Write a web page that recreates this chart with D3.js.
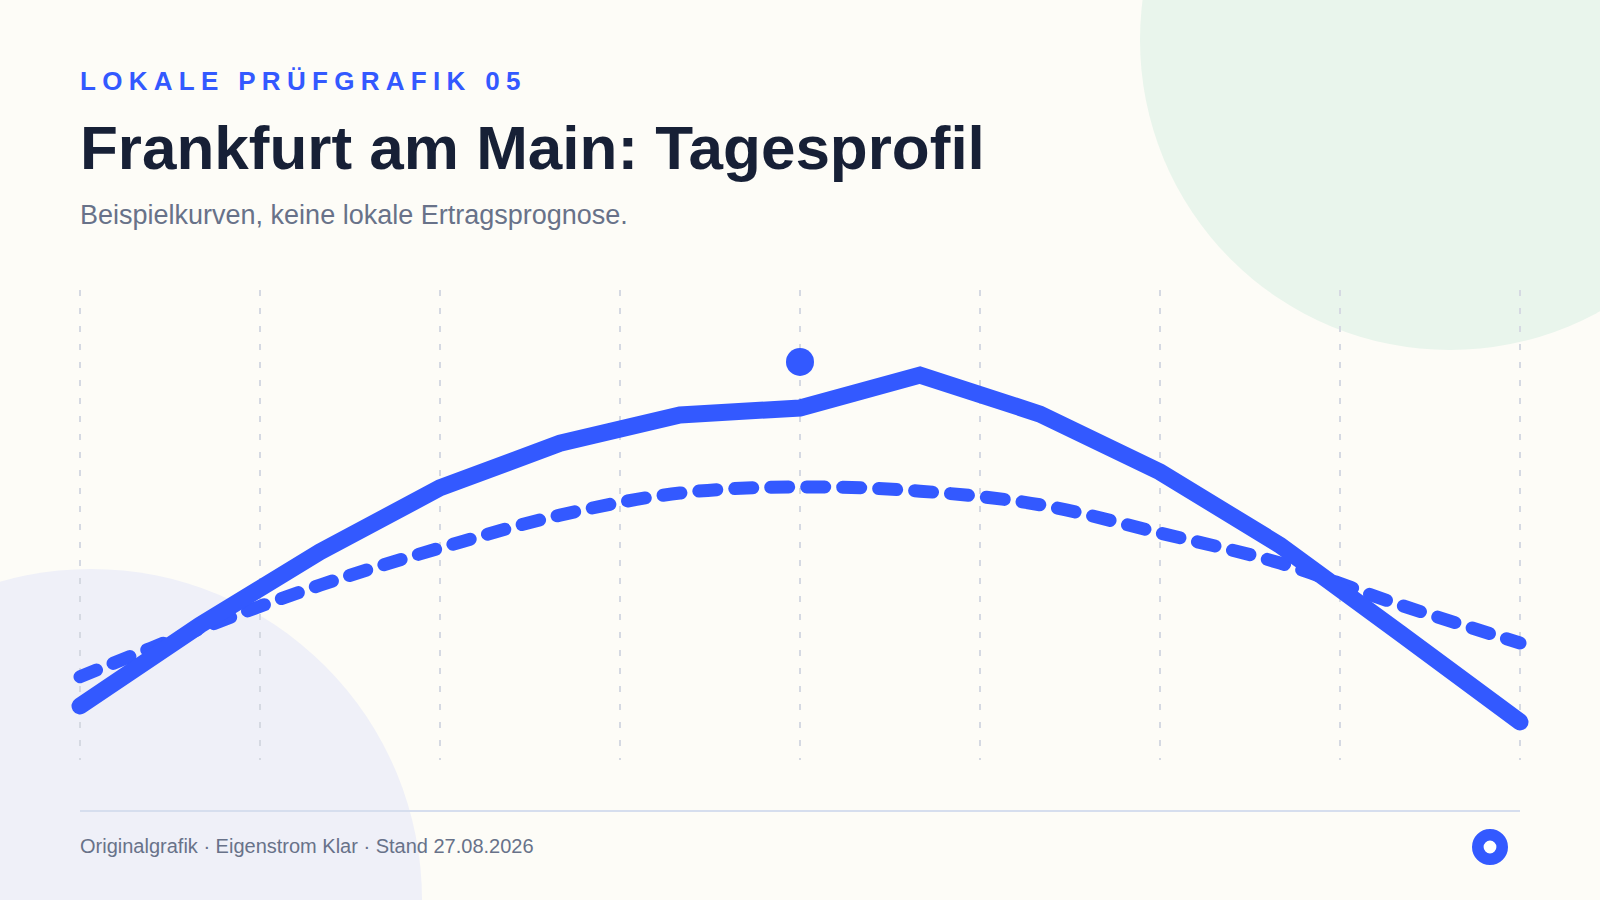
<!DOCTYPE html>
<html lang="de">
<head>
  <meta charset="UTF-8">
  <title>Frankfurt am Main: Tagesprofil</title>
  <style>
    body {
      margin: 0;
      padding: 0;
      background-color: #fdfcf7;
      font-family: "Liberation Sans", Arial, Helvetica, sans-serif;
    }
    svg { display: block; }
  </style>
  <script src="https://d3js.org/d3.v7.min.js"></script>
</head>
<body>
  <div id="chart"></div>

  <script>
    // Stunden des Tagesprofils
    const hours = [6, 7, 8, 9, 10, 11, 12, 13, 14, 15, 16, 17, 18];
    // Beispielkurve (durchgezogen)
    const profileValues = [11.5, 28.7, 44.3, 57.9, 67.4, 73.4, 74.9, 81.9, 73.6, 61.3, 45.7, 27.0, 8.1];
    // Referenzkurve (gestrichelt)
    const referenceValues = [17.7, 27.9, 37.2, 45.1, 52.1, 56.8, 58.1, 57.2, 54.3, 48.3, 41.9, 33.0, 24.9];
    // Rasterlinien
    const gridHours = [6, 7.5, 9, 10.5, 12, 13.5, 15, 16.5, 18];
    // Markierung
    const markerHour = 12;
    const markerValue = 84.7;

    const width = 1600;
    const height = 900;
    const blue = "#3359ff";

    const svg = d3.select("#chart")
      .append("svg")
      .attr("width", width)
      .attr("height", height);

    svg.append("rect")
      .attr("width", width)
      .attr("height", height)
      .attr("fill", "#fdfcf7");

    // Deko-Kreise
    svg.append("circle")
      .attr("cx", 1450)
      .attr("cy", 40)
      .attr("r", 310)
      .attr("fill", "#e9f5ec");

    svg.append("circle")
      .attr("cx", 91)
      .attr("cy", 900)
      .attr("r", 331)
      .attr("fill", "#eff0f8");

    // Kopfzeilen
    svg.append("text")
      .attr("x", 80)
      .attr("y", 90)
      .attr("fill", blue)
      .attr("font-size", "26px")
      .attr("font-weight", "bold")
      .attr("letter-spacing", "6.3px")
      .text("LOKALE PRÜFGRAFIK 05");

    svg.append("text")
      .attr("x", 80)
      .attr("y", 169)
      .attr("fill", "#172036")
      .attr("font-size", "62px")
      .attr("font-weight", "bold")
      .text("Frankfurt am Main: Tagesprofil");

    svg.append("text")
      .attr("x", 80)
      .attr("y", 224)
      .attr("fill", "#687289")
      .attr("font-size", "27px")
      .text("Beispielkurven, keine lokale Ertragsprognose.");

    // Skalen
    const x = d3.scaleLinear()
      .domain([6, 18])
      .range([80, 1520]);

    const y = d3.scaleLinear()
      .domain([0, 100])
      .range([760, 290]);

    // Raster
    svg.append("g")
      .selectAll("line")
      .data(gridHours)
      .join("line")
      .attr("x1", d => x(d))
      .attr("x2", d => x(d))
      .attr("y1", y(100))
      .attr("y2", y(0))
      .attr("stroke", "#d5d9e2")
      .attr("stroke-width", 2)
      .attr("stroke-dasharray", "6 12");

    // Gestrichelte Referenzkurve
    const smoothLine = d3.line()
      .x((d, i) => x(hours[i]))
      .y(d => y(d))
      .curve(d3.curveCatmullRom);

    svg.append("path")
      .datum(referenceValues)
      .attr("d", smoothLine)
      .attr("fill", "none")
      .attr("stroke", blue)
      .attr("stroke-width", 13)
      .attr("stroke-linecap", "round")
      .attr("stroke-dasharray", "18 18");

    // Durchgezogene Kurve
    const line = d3.line()
      .x((d, i) => x(hours[i]))
      .y(d => y(d));

    svg.append("path")
      .datum(profileValues)
      .attr("d", line)
      .attr("fill", "none")
      .attr("stroke", blue)
      .attr("stroke-width", 17)
      .attr("stroke-linecap", "round")
      .attr("stroke-linejoin", "miter");

    // Markierungspunkt
    svg.append("circle")
      .attr("cx", x(markerHour))
      .attr("cy", y(markerValue))
      .attr("r", 14)
      .attr("fill", blue);

    // Fußzeile
    svg.append("line")
      .attr("x1", 80)
      .attr("x2", 1520)
      .attr("y1", 811)
      .attr("y2", 811)
      .attr("stroke", "#d6deee")
      .attr("stroke-width", 2);

    svg.append("text")
      .attr("x", 80)
      .attr("y", 853)
      .attr("fill", "#687289")
      .attr("font-size", "20px")
      .text("Originalgrafik · Eigenstrom Klar · Stand 27.08.2026");

    svg.append("circle")
      .attr("cx", 1490)
      .attr("cy", 847)
      .attr("r", 12.2)
      .attr("fill", "#ffffff")
      .attr("stroke", blue)
      .attr("stroke-width", 11.6);
  </script>
</body>
</html>
